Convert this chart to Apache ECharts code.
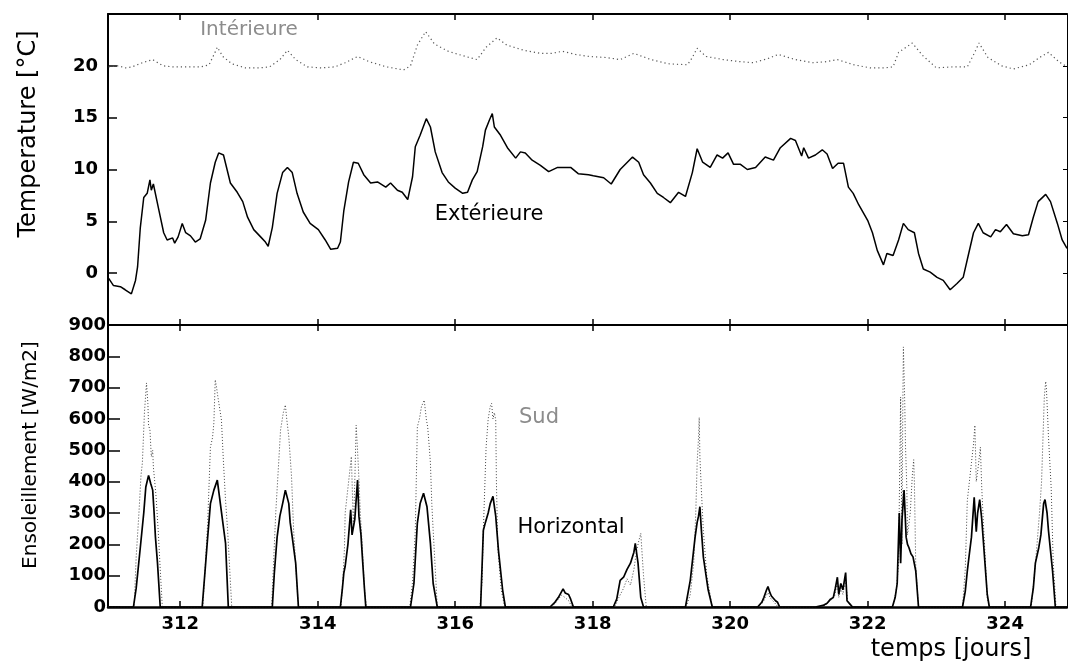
<!DOCTYPE html>
<html>
<head>
<meta charset="utf-8">
<script src="https://cdn.jsdelivr.net/npm/echarts@6/dist/echarts.min.js"></script>
<style>
  html, body { margin: 0; padding: 0; background: #fff; }
  #chart { width: 1068px; height: 663px; }
</style>
</head>
<body>
<div id="chart"></div>
<script>
// Day ticks shared by both panels
const dayTicks = [312, 314, 316, 318, 320, 322, 324];
const tempTicks = [0, 5, 10, 15, 20];

// Outdoor temperature [°C]
const extDays = [310.96, 311.03, 311.13, 311.2, 311.29, 311.35, 311.38, 311.42, 311.47, 311.52, 311.56, 311.58, 311.61, 311.68, 311.76, 311.81, 311.89, 311.92, 311.97, 312.03, 312.08, 312.15, 312.22, 312.29, 312.37, 312.44, 312.51, 312.56, 312.63, 312.73, 312.83, 312.91, 312.98, 313.07, 313.17, 313.24, 313.28, 313.34, 313.41, 313.49, 313.56, 313.63, 313.7, 313.79, 313.89, 314.01, 314.11, 314.19, 314.29, 314.33, 314.38, 314.45, 314.52, 314.59, 314.67, 314.77, 314.87, 314.99, 315.06, 315.16, 315.23, 315.31, 315.38, 315.42, 315.49, 315.58, 315.64, 315.71, 315.81, 315.9, 316.0, 316.11, 316.18, 316.25, 316.32, 316.4, 316.44, 316.5, 316.54, 316.57, 316.66, 316.76, 316.88, 316.95, 317.02, 317.12, 317.24, 317.36, 317.49, 317.68, 317.79, 317.94, 318.01, 318.16, 318.27, 318.4, 318.58, 318.67, 318.74, 318.84, 318.94, 319.03, 319.13, 319.25, 319.35, 319.45, 319.52, 319.6, 319.71, 319.81, 319.89, 319.97, 320.05, 320.15, 320.25, 320.37, 320.51, 320.63, 320.73, 320.88, 320.95, 321.04, 321.07, 321.14, 321.24, 321.34, 321.41, 321.49, 321.57, 321.65, 321.72, 321.79, 321.87, 322.0, 322.07, 322.14, 322.23, 322.28, 322.37, 322.45, 322.52, 322.59, 322.68, 322.74, 322.81, 322.91, 323.01, 323.1, 323.2, 323.3, 323.39, 323.47, 323.54, 323.61, 323.68, 323.79, 323.86, 323.93, 324.02, 324.12, 324.25, 324.34, 324.41, 324.48, 324.59, 324.66, 324.76, 324.83, 324.9];
const extTemp = [-0.5, -1.2, -1.3, -1.6, -2.0, -0.7, 0.6, 4.4, 7.3, 7.7, 9.0, 8.0, 8.6, 6.4, 3.9, 3.2, 3.4, 2.9, 3.5, 4.8, 3.9, 3.6, 3.0, 3.3, 5.1, 8.7, 10.7, 11.6, 11.4, 8.7, 7.8, 6.9, 5.4, 4.2, 3.5, 3.0, 2.6, 4.4, 7.7, 9.7, 10.2, 9.7, 7.7, 5.9, 4.8, 4.2, 3.2, 2.3, 2.4, 3.0, 6.0, 8.8, 10.7, 10.6, 9.5, 8.7, 8.8, 8.3, 8.7, 8.0, 7.8, 7.1, 9.3, 12.2, 13.3, 14.9, 14.1, 11.7, 9.7, 8.8, 8.2, 7.7, 7.8, 9.0, 9.8, 12.2, 13.8, 14.8, 15.4, 14.1, 13.3, 12.1, 11.1, 11.7, 11.6, 10.9, 10.4, 9.8, 10.2, 10.2, 9.6, 9.5, 9.4, 9.2, 8.6, 10.0, 11.2, 10.7, 9.5, 8.7, 7.7, 7.3, 6.8, 7.8, 7.4, 9.7, 12.0, 10.7, 10.2, 11.4, 11.1, 11.6, 10.5, 10.5, 10.0, 10.2, 11.2, 10.9, 12.1, 13.0, 12.8, 11.3, 12.1, 11.1, 11.4, 11.9, 11.5, 10.1, 10.6, 10.6, 8.3, 7.7, 6.6, 5.1, 3.9, 2.2, 0.8, 1.9, 1.7, 3.2, 4.8, 4.2, 3.9, 1.9, 0.4, 0.1, -0.4, -0.7, -1.6, -1.0, -0.4, 1.9, 3.9, 4.8, 3.9, 3.5, 4.2, 4.0, 4.7, 3.8, 3.6, 3.7, 5.4, 6.9, 7.6, 6.9, 4.8, 3.2, 2.4];

// Indoor temperature [°C]
const intDays = [310.96, 311.1, 311.2, 311.3, 311.45, 311.6, 311.75, 311.9, 312.1, 312.3, 312.42, 312.5, 312.54, 312.62, 312.75, 312.95, 313.15, 313.3, 313.45, 313.56, 313.68, 313.85, 314.05, 314.25, 314.4, 314.58, 314.75, 315.0, 315.25, 315.35, 315.45, 315.57, 315.7, 315.9, 316.1, 316.32, 316.45, 316.61, 316.75, 317.0, 317.24, 317.4, 317.56, 317.75, 317.95, 318.2, 318.4, 318.6, 318.85, 319.1, 319.38, 319.45, 319.52, 319.65, 319.9, 320.15, 320.34, 320.55, 320.7, 320.95, 321.2, 321.4, 321.56, 321.8, 322.04, 322.25, 322.37, 322.45, 322.65, 322.8, 323.0, 323.25, 323.45, 323.55, 323.62, 323.75, 323.95, 324.12, 324.35, 324.5, 324.63, 324.78, 324.9];
const intTemp = [19.9, 20.0, 19.8, 19.9, 20.3, 20.6, 20.0, 19.9, 19.9, 19.9, 20.1, 21.2, 21.8, 20.9, 20.2, 19.8, 19.8, 19.9, 20.6, 21.5, 20.6, 19.9, 19.8, 19.9, 20.3, 20.9, 20.4, 19.9, 19.6, 20.0, 22.0, 23.3, 22.1, 21.4, 21.0, 20.6, 21.8, 22.7, 22.0, 21.5, 21.2, 21.2, 21.4, 21.1, 20.9, 20.8, 20.6, 21.2, 20.6, 20.2, 20.1, 20.8, 21.7, 20.9, 20.6, 20.4, 20.3, 20.7, 21.1, 20.6, 20.3, 20.4, 20.6, 20.1, 19.8, 19.8, 19.9, 21.3, 22.2, 21.0, 19.8, 19.9, 19.9, 21.2, 22.2, 20.8, 20.0, 19.7, 20.1, 20.8, 21.3, 20.4, 19.9];

// Horizontal irradiance [W/m2]
const horDays = [310.96, 311.32, 311.36, 311.42, 311.47, 311.5, 311.54, 311.57, 311.6, 311.62, 311.64, 311.67, 311.71, 312.32, 312.36, 312.4, 312.44, 312.49, 312.54, 312.59, 312.62, 312.66, 312.7, 313.34, 313.37, 313.41, 313.45, 313.49, 313.53, 313.58, 313.6, 313.63, 313.68, 313.72, 314.33, 314.36, 314.38, 314.4, 314.44, 314.48, 314.5, 314.54, 314.58, 314.6, 314.63, 314.65, 314.68, 314.7, 315.35, 315.4, 315.45, 315.49, 315.54, 315.59, 315.62, 315.64, 315.68, 315.74, 316.37, 316.41, 316.44, 316.48, 316.51, 316.55, 316.59, 316.63, 316.69, 316.73, 317.38, 317.45, 317.5, 317.55, 317.57, 317.6, 317.65, 317.68, 317.72, 318.3, 318.35, 318.4, 318.45, 318.5, 318.55, 318.6, 318.62, 318.66, 318.7, 318.74, 319.35, 319.42, 319.49, 319.52, 319.54, 319.56, 319.58, 319.61, 319.68, 319.74, 320.4, 320.46, 320.49, 320.53, 320.55, 320.58, 320.6, 320.66, 320.69, 320.72, 321.24, 321.35, 321.41, 321.46, 321.5, 321.53, 321.56, 321.58, 321.61, 321.64, 321.68, 321.7, 321.74, 321.78, 322.36, 322.4, 322.43, 322.46, 322.48, 322.5, 322.53, 322.56, 322.58, 322.6, 322.63, 322.66, 322.7, 322.74, 323.38, 323.42, 323.45, 323.48, 323.51, 323.55, 323.58, 323.6, 323.63, 323.66, 323.69, 323.74, 323.77, 324.37, 324.41, 324.44, 324.47, 324.49, 324.52, 324.56, 324.58, 324.61, 324.63, 324.66, 324.69, 324.73, 324.9];
const horVals = [0, 0, 60, 190, 300, 383, 420, 395, 373, 303, 223, 140, 0, 0, 110, 223, 330, 373, 405, 320, 270, 203, 0, 0, 110, 223, 290, 330, 373, 330, 270, 223, 140, 0, 0, 60, 108, 130, 200, 310, 230, 280, 405, 290, 230, 160, 60, 0, 0, 75, 268, 330, 363, 320, 250, 203, 75, 0, 0, 245, 270, 300, 330, 353, 290, 180, 55, 0, 0, 15, 30, 50, 58, 45, 40, 25, 0, 0, 25, 85, 95, 120, 140, 175, 203, 140, 30, 0, 0, 85, 223, 270, 290, 320, 250, 160, 55, 0, 0, 15, 30, 55, 65, 45, 35, 20, 15, 0, 0, 5, 12, 25, 30, 60, 95, 40, 75, 55, 110, 20, 10, 0, 0, 30, 75, 300, 140, 280, 373, 223, 200, 190, 170, 160, 115, 0, 0, 50, 115, 170, 223, 350, 240, 300, 343, 280, 190, 40, 0, 0, 60, 140, 170, 190, 230, 330, 343, 300, 245, 180, 115, 0, 0];

// South-facing irradiance [W/m2]
const sudDays = [310.96, 311.33, 311.36, 311.4, 311.43, 311.45, 311.48, 311.51, 311.53, 311.54, 311.56, 311.58, 311.6, 311.61, 311.63, 311.65, 311.68, 311.71, 311.74, 312.33, 312.37, 312.4, 312.44, 312.47, 312.49, 312.51, 312.53, 312.54, 312.57, 312.6, 312.63, 312.66, 312.69, 312.75, 313.33, 313.36, 313.39, 313.43, 313.46, 313.5, 313.53, 313.55, 313.58, 313.6, 313.62, 313.65, 313.69, 313.72, 314.34, 314.37, 314.39, 314.4, 314.44, 314.47, 314.49, 314.52, 314.54, 314.56, 314.58, 314.6, 314.62, 314.65, 314.68, 314.71, 315.34, 315.38, 315.42, 315.45, 315.48, 315.51, 315.55, 315.58, 315.6, 315.62, 315.64, 315.66, 315.68, 315.74, 316.36, 316.39, 316.41, 316.45, 316.48, 316.51, 316.53, 316.55, 316.57, 316.59, 316.6, 316.62, 316.67, 316.72, 317.38, 317.45, 317.5, 317.55, 317.6, 317.65, 317.7, 318.32, 318.38, 318.45, 318.5, 318.55, 318.6, 318.64, 318.67, 318.7, 318.74, 318.78, 319.36, 319.42, 319.47, 319.5, 319.52, 319.54, 319.55, 319.56, 319.58, 319.61, 319.66, 319.74, 320.4, 320.48, 320.52, 320.55, 320.58, 320.62, 320.7, 321.24, 321.38, 321.46, 321.52, 321.56, 321.58, 321.61, 321.64, 321.68, 321.71, 321.78, 322.37, 322.42, 322.45, 322.47, 322.48, 322.5, 322.51, 322.52, 322.54, 322.55, 322.57, 322.58, 322.62, 322.65, 322.67, 322.68, 322.7, 322.74, 323.38, 323.42, 323.45, 323.48, 323.51, 323.54, 323.56, 323.58, 323.61, 323.64, 323.66, 323.69, 323.74, 323.77, 324.38, 324.42, 324.46, 324.5, 324.53, 324.57, 324.59, 324.6, 324.62, 324.63, 324.67, 324.7, 324.74, 324.9];
const sudVals = [0, 0, 160, 300, 420, 460, 620, 715, 650, 580, 565, 480, 500, 447, 400, 350, 245, 120, 0, 0, 150, 270, 510, 540, 587, 725, 700, 683, 640, 597, 460, 340, 245, 0, 0, 150, 300, 450, 565, 620, 645, 600, 543, 480, 415, 245, 100, 0, 0, 100, 190, 300, 380, 440, 480, 250, 400, 580, 500, 410, 300, 190, 60, 0, 0, 80, 245, 575, 600, 640, 660, 600, 575, 520, 460, 330, 245, 0, 0, 80, 245, 510, 600, 640, 650, 600, 620, 597, 400, 190, 55, 0, 0, 10, 25, 38, 30, 20, 0, 0, 30, 60, 90, 70, 120, 180, 210, 235, 100, 0, 0, 40, 140, 300, 460, 540, 605, 480, 380, 245, 100, 0, 0, 15, 35, 45, 30, 20, 0, 0, 5, 20, 35, 80, 30, 60, 40, 85, 15, 0, 0, 60, 140, 500, 670, 200, 600, 830, 650, 520, 380, 230, 300, 420, 470, 400, 130, 0, 0, 120, 340, 400, 460, 520, 580, 400, 450, 510, 380, 240, 30, 0, 0, 90, 190, 300, 400, 670, 720, 700, 600, 545, 380, 140, 0, 0];

const zip = (xs, ys) => xs.map((x, i) => [x, ys[i]]);

const FONT = '"DejaVu Sans", "Liberation Sans", sans-serif';
const X_MIN = 310.95, X_MAX = 324.9;

const tickFont = { fontFamily: FONT, fontWeight: 'bold', fontSize: 18, color: '#000' };

const chart = echarts.init(document.getElementById('chart'), null, { renderer: 'canvas' });

function xAxisDef(gridIndex, position, withLabels) {
  return {
    type: 'value', gridIndex, position, min: X_MIN, max: X_MAX,
    axisLine: { show: true, onZero: false, lineStyle: { color: '#000', width: position === 'bottom' && withLabels ? 2.5 : 2 } },
    axisTick: { show: true, inside: true, length: 6, customValues: dayTicks, lineStyle: { color: '#000', width: 1.5 } },
    axisLabel: withLabels
      ? Object.assign({ show: true, margin: 8, customValues: dayTicks }, tickFont)
      : { show: false },
    splitLine: { show: false }
  };
}

const option = {
  animation: false,
  backgroundColor: '#fff',
  grid: [
    { left: 108, top: 14, width: 959, height: 311 },
    { left: 108, top: 325, width: 959, height: 282 }
  ],
  xAxis: [
    xAxisDef(0, 'bottom', false),
    xAxisDef(0, 'top', false),
    xAxisDef(1, 'bottom', true),
    xAxisDef(1, 'top', false)
  ],
  yAxis: [
    {
      type: 'value', gridIndex: 0, position: 'left', min: -5, max: 25, interval: 5,
      axisLine: { show: true, lineStyle: { color: '#000', width: 2 } },
      axisTick: { show: true, inside: true, length: 9, customValues: tempTicks, lineStyle: { color: '#000', width: 1.5 } },
      axisLabel: Object.assign({ margin: 10, customValues: tempTicks }, tickFont),
      splitLine: { show: false }
    },
    {
      type: 'value', gridIndex: 0, position: 'right', min: -5, max: 25, interval: 5,
      axisLine: { show: true, lineStyle: { color: '#000', width: 1 } },
      axisTick: { show: true, inside: true, length: 4, customValues: tempTicks, lineStyle: { color: '#000' } },
      axisLabel: { show: false },
      splitLine: { show: false }
    },
    {
      type: 'value', gridIndex: 1, position: 'left', min: 0, max: 900, interval: 100,
      axisLine: { show: true, lineStyle: { color: '#000', width: 2 } },
      axisTick: { show: true, inside: true, length: 12, lineStyle: { color: '#000', width: 1.5 } },
      axisLabel: Object.assign({ margin: 2 }, tickFont),
      splitLine: { show: false }
    },
    {
      type: 'value', gridIndex: 1, position: 'right', min: 0, max: 900, interval: 100,
      axisLine: { show: true, lineStyle: { color: '#000', width: 1 } },
      axisTick: { show: false },
      axisLabel: { show: false },
      splitLine: { show: false }
    }
  ],
  series: [
    {
      name: 'Intérieure', type: 'line', xAxisIndex: 0, yAxisIndex: 0,
      data: zip(intDays, intTemp), showSymbol: false, smooth: false,
      lineStyle: { color: '#555', width: 1.2, type: [1.2, 3] }
    },
    {
      name: 'Extérieure', type: 'line', xAxisIndex: 0, yAxisIndex: 0,
      data: zip(extDays, extTemp), showSymbol: false,
      lineStyle: { color: '#000', width: 1.5 }
    },
    {
      name: 'Sud', type: 'line', xAxisIndex: 2, yAxisIndex: 2,
      data: zip(sudDays, sudVals), showSymbol: false,
      lineStyle: { color: '#444', width: 1, type: [1, 2] }
    },
    {
      name: 'Horizontal', type: 'line', xAxisIndex: 2, yAxisIndex: 2,
      data: zip(horDays, horVals), showSymbol: false,
      lineStyle: { color: '#000', width: 1.7 }
    }
  ],
  graphic: [
    { type: 'text', x: 29, y: 134, rotation: Math.PI / 2,
      style: { text: 'Temperature [°C]', font: '24px ' + FONT, fill: '#000', align: 'center', verticalAlign: 'middle' } },
    { type: 'text', x: 31, y: 455, rotation: Math.PI / 2,
      style: { text: 'Ensoleillement [W/m2]', font: '20px ' + FONT, fill: '#000', align: 'center', verticalAlign: 'middle' } },
    { type: 'text', x: 951, y: 650,
      style: { text: 'temps [jours]', font: '24px ' + FONT, fill: '#000', align: 'center', verticalAlign: 'middle' } },
    { type: 'text', x: 249, y: 30,
      style: { text: 'Intérieure', font: '20px ' + FONT, fill: '#8c8c8c', align: 'center', verticalAlign: 'middle' } },
    { type: 'text', x: 489, y: 215,
      style: { text: 'Extérieure', font: '21px ' + FONT, fill: '#000', align: 'center', verticalAlign: 'middle' } },
    { type: 'text', x: 539, y: 418,
      style: { text: 'Sud', font: '21px ' + FONT, fill: '#8c8c8c', align: 'center', verticalAlign: 'middle' } },
    { type: 'text', x: 571, y: 528,
      style: { text: 'Horizontal', font: '21px ' + FONT, fill: '#000', align: 'center', verticalAlign: 'middle' } }
  ]
};

chart.setOption(option);
</script>
</body>
</html>
